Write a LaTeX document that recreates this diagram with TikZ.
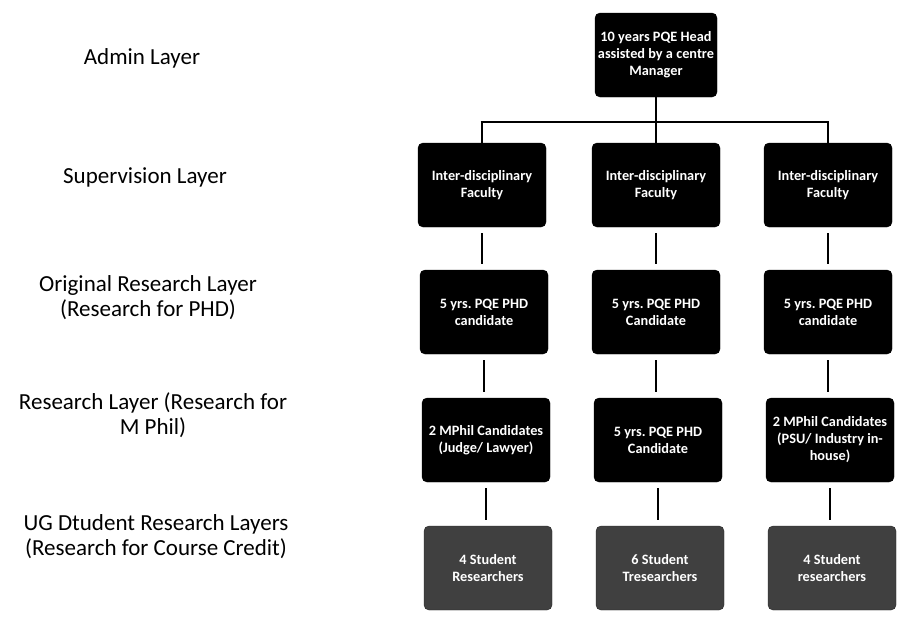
\documentclass[tikz,border=0pt]{standalone}
\usepackage{fontspec}
\setmainfont{Carlito}
\frenchspacing
\begin{document}
\begin{tikzpicture}[x=1pt,y=-1pt,
  box/.style={draw=black,fill=black,rounded corners=5pt,minimum width=128pt,minimum height=84pt,
    align=center,text=white,font=\bfseries\fontsize{14.3}{17}\selectfont,inner sep=1pt},
  lowbox/.style={box,fill=black!75,draw=black!85},
  layer/.style={align=center,font=\fontsize{23}{25}\selectfont,text=black},
  link/.style={line width=2.6pt,black},
  gap/.style={link,shorten <=6pt,shorten >=6pt}]
\useasboundingbox (0,0) rectangle (902,622);
\fill[white] (0,0) rectangle (902,622);
% layer labels
\node[layer] (l1) at (142,58) {Admin Layer};
\node[layer] (l2) at (145,177) {Supervision Layer};
\node[layer] (l3) at (148,298) {Original Research Layer\\(Research for PHD)};
\node[layer] (l4) at (153,415) {Research Layer (Research for\\M Phil)};
\node[layer] (l5) at (156,537) {UG Dtudent Research Layers\\(Research for Course Credit)};
% boxes
\node[box,minimum width=122pt] (top) at (656,55) {10 years PQE Head\\assisted by a centre\\Manager};
\node[box] (a2) at (482,185) {Inter-disciplinary\\Faculty};
\node[box] (b2) at (656,185) {Inter-disciplinary\\Faculty};
\node[box] (c2) at (828,185) {Inter-disciplinary\\Faculty};
\node[box] (a3) at (484,312) {5 yrs. PQE PHD\\candidate};
\node[box] (b3) at (656,312) {5 yrs. PQE PHD\\Candidate};
\node[box] (c3) at (828,312) {5 yrs. PQE PHD\\candidate};
\node[box] (a4) at (486,440) {2 MPhil Candidates\\(Judge/ Lawyer)};
\node[box] (b4) at (658,440) {5 yrs. PQE PHD\\Candidate};
\node[box] (c4) at (830,440) {2 MPhil Candidates\\(PSU/ Industry in-\\house)};
\node[lowbox] (a5) at (488,568) {4 Student\\Researchers};
\node[lowbox] (b5) at (660,568) {6 Student\\Tresearchers};
\node[lowbox] (c5) at (832,568) {4 Student\\researchers};
% bus
\coordinate (bus) at (656,122);
\coordinate (busl) at (a2.north |- bus);
\coordinate (busr) at (c2.north |- bus);
\draw[link] (top.south) -- (bus);
\draw[link] ([xshift=-1.3pt]busl) -- ([xshift=1.3pt]busr);
\draw[link] (busl) -- (a2.north);
\draw[link] (bus) -- (b2.north);
\draw[link] (busr) -- (c2.north);
% vertical links
\foreach \c in {a,b,c}{
  \draw[gap] (\c2.south) -- (\c2.south |- \c3.north);
  \draw[gap] (\c3.south) -- (\c3.south |- \c4.north);
  \draw[gap] (\c4.south) -- (\c4.south |- \c5.north);
}
\end{tikzpicture}
\end{document}
